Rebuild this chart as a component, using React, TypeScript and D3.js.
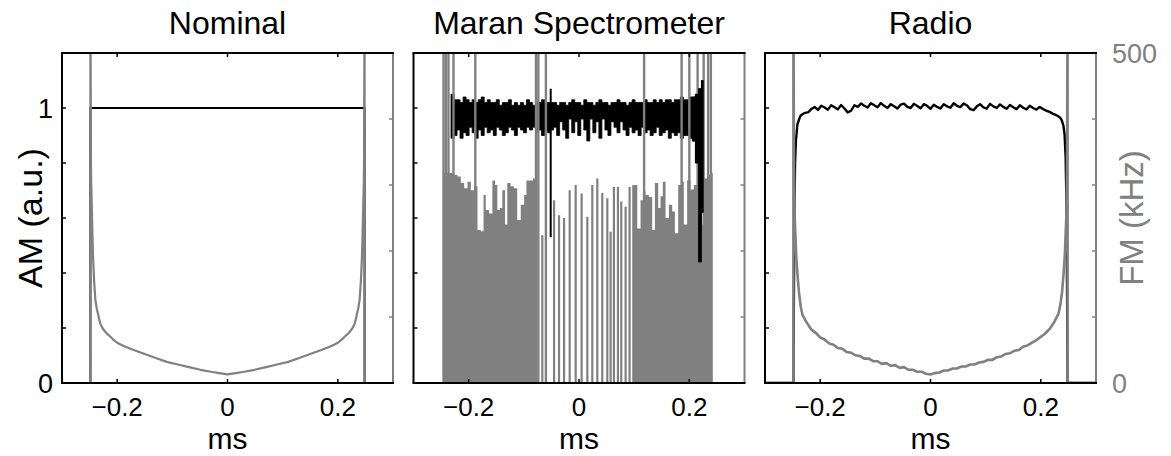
import React from 'react';
import * as d3 from 'd3';

const W = 1171;
const H = 456;
const GRAY = '#808080';
const FONT = "'Liberation Sans', Arial, Helvetica, sans-serif";

// ---- axes ----
const xDomain = [-0.3, 0.3];
const amDomain = [0, 1.2];
const fmDomain = [0, 500];
const xTicks = [-0.2, 0, 0.2];
const xTickLabels = ['\u22120.2', '0', '0.2'];
const amTicks = [0.2, 0.4, 0.6, 0.8, 1.0];
const amLabelTicks = [0, 1];
const amLabelText = ['0', '1'];
const fmTicks = [100, 200, 300, 400];
const fmLabelTicks = [0, 500];
const fmLabelText = ['0', '500'];
const titles = ['Nominal', 'Maran Spectrometer', 'Radio'];

// ---- Nominal ----
const nomAMt = [-0.3, -0.2485, -0.2485, 0.2485, 0.2485, 0.3];
const nomAM = [0, 0, 1, 1, 0, 0];
const nomFMt = [-0.3, -0.2485, -0.2485, -0.2475, -0.247, -0.246, -0.245, -0.2437, -0.2418, -0.2395, -0.237, -0.2345, -0.2325, -0.2305, -0.2265, -0.222, -0.2175, -0.2123, -0.206, -0.2, -0.193, -0.185, -0.17, -0.15, -0.13, -0.11, -0.09, -0.07, -0.049, -0.03, -0.015, 0,
  0.015, 0.03, 0.049, 0.07, 0.09, 0.11, 0.13, 0.15, 0.17, 0.185, 0.193, 0.2, 0.206, 0.2123, 0.2175, 0.222, 0.2265, 0.2305, 0.2325, 0.2345, 0.237, 0.2395, 0.2418, 0.2437, 0.245, 0.246, 0.247, 0.2475, 0.2485, 0.2485, 0.3];
const nomFM = [0, 0, 600, 330, 300, 267, 230, 191, 155, 126, 113, 104, 96, 90, 83, 78, 74, 70, 65, 61, 58, 55, 50, 44, 38, 32, 28, 24, 20, 17, 15, 13,
  15, 17, 20, 24, 28, 32, 38, 44, 50, 55, 58, 61, 65, 70, 74, 78, 83, 90, 96, 104, 113, 126, 155, 191, 230, 267, 300, 330, 600, 0, 0];

// ---- Maran Spectrometer ----
const maranAMStart = -0.232;
const maranAMStep = 0.00547;
const maranAMhi = [
  1.05, 1.03, 1.03, 1.02, 1.04, 1.03, 1.02, 1.03, 1.02, 1.03,
  1.04, 1.02, 1.03, 1.02, 1.02, 1.03, 1.01, 1.02, 1.02, 1.03,
  1.01, 1.02, 1.01, 1.02, 1.01, 1.03, 1.02, 1.01, 1.02, 1.02,
  1.03, 1.02, 1.02, 1.02, 1.02, 1.01, 1.02, 1.02, 1.01, 1.02,
  1.03, 1.02, 1.02, 1.01, 1.03, 1.02, 1.02, 1.01, 1.02, 1.03,
  1.02, 1.02, 1.01, 1.02, 1.02, 1.03, 1.02, 1.02, 1.01, 1.02,
  1.03, 1.02, 1.02, 1.02, 1.03, 1.02, 1.02, 1.03, 1.02, 1.03,
  1.02, 1.03, 1.03, 1.02, 1.03, 1.03, 1.04, 1.03, 1.03, 1.04,
  1.04, 1.05, 1.07, 1.10];
const maranAMlo = [
  0.89, 0.90, 0.92, 0.89, 0.91, 0.90, 0.93, 0.91, 0.89, 0.92,
  0.90, 0.93, 0.91, 0.92, 0.90, 0.93, 0.92, 0.90, 0.91, 0.93,
  0.92, 0.90, 0.93, 0.92, 0.91, 0.93, 0.92, 0.93, 0.91, 0.92,
  0.90, 0.92, 0.91, 0.92, 0.93, 0.90, 0.95, 0.92, 0.89, 0.96,
  0.91, 0.95, 0.90, 0.96, 0.92, 0.88, 0.96, 0.91, 0.95, 0.89,
  0.96, 0.92, 0.90, 0.95, 0.93, 0.91, 0.95, 0.92, 0.90, 0.93,
  0.91, 0.92, 0.90, 0.93, 0.91, 0.92, 0.90, 0.91, 0.93, 0.90,
  0.91, 0.92, 0.89, 0.91, 0.90, 0.91, 0.89, 0.90, 0.90, 0.89,
  0.88, 0.80, 0.44, 0.62];
const maranAMTailFrom = 80;
const maranAMSpikeT = [-0.0513];
const maranAMSpikeHi = [1.07];
const maranAMSpikeLo = [0.53];

const maranFMLeftT = [-0.2456, -0.2383, -0.2323, -0.2262, -0.2202, -0.2142, -0.2081, -0.2021, -0.1961, -0.19, -0.184, -0.178, -0.173, -0.169, -0.163, -0.157, -0.152, -0.148, -0.1436, -0.139, -0.134, -0.13, -0.124, -0.118, -0.112, -0.1056, -0.0995, -0.0953, -0.0893, -0.0833, -0.0784, -0.0755];
const maranFMLeft = [318, 318, 318, 315, 313, 303, 295, 305, 292, 298, 232, 230, 285, 262, 257, 307, 300, 262, 265, 292, 240, 303, 298, 295, 247, 270, 285, 307, 307, 310, 310, 0];
const maranFMRightT = [0.0965, 0.1056, 0.1116, 0.1158, 0.1207, 0.1267, 0.1327, 0.1376, 0.1436, 0.1478, 0.152, 0.1569, 0.1629, 0.1689, 0.1738, 0.1798, 0.1858, 0.19, 0.196, 0.2021, 0.2081, 0.2142, 0.2202, 0.2262, 0.2323, 0.2383, 0.241, 0.2425];
const maranFMRight = [300, 234, 277, 290, 285, 282, 232, 303, 265, 283, 305, 250, 270, 260, 227, 300, 305, 240, 307, 293, 300, 300, 240, 310, 315, 318, 318, 0];
const maranSpikeT = [-0.0665, -0.0452, -0.0362, -0.0271, -0.0169, -0.006, 0.0048, 0.0151, 0.0241, 0.0332, 0.0422, 0.0513, 0.0573, 0.0633, 0.0706, 0.0766, 0.0845, 0.0917];
const maranSpikeTop = [224, 277, 254, 250, 292, 300, 287, 252, 300, 310, 288, 280, 229, 297, 297, 275, 267, 297];
const maranSpikeBase = 0;
const maranTallT = [-0.2456, -0.2413, -0.2366, -0.2275, -0.188, -0.078, -0.0737, -0.06, 0.118, 0.186, 0.2, 0.215, 0.226, 0.234, 0.239];
const maranTallTop = 600;

// ---- Radio ----
const radioAMLeftT = [-0.3, -0.2485, -0.2475, -0.2465, -0.2455, -0.244, -0.2413, -0.238, -0.2353, -0.23, -0.226];
const radioAMLeft = [0, 0, 0.35, 0.65, 0.8, 0.88, 0.94, 0.96, 0.973, 0.98, 0.983];
const radioAMStart = -0.222;
const radioAMStep = 0.006;
const radioAMMid = [
  0.984, 0.996, 1.004, 0.993, 1.008, 1.002, 0.994, 1.010, 1.003, 0.995,
  1.011, 0.998, 0.984, 0.990, 1.010, 1.004, 1.016, 1.008, 1.002, 1.017,
  1.010, 1.003, 1.018, 1.008, 1.000, 1.014, 1.006, 0.998, 1.012, 1.016,
  1.004, 1.000, 1.015, 1.007, 0.999, 1.014, 1.008, 0.997, 1.012, 1.004,
  0.998, 1.014, 1.006, 1.001, 1.017, 1.008, 1.003, 1.016, 1.010, 0.996,
  0.992, 1.006, 1.014, 1.002, 0.998, 1.015, 1.006, 1.000, 1.013, 1.004,
  0.997, 1.011, 1.003, 0.996, 1.010, 1.001, 0.995, 1.008, 1.000, 0.994,
  1.004, 0.996, 0.990, 0.986, 0.979];
const radioAMRightT = [0.226, 0.23, 0.235, 0.238, 0.241, 0.243, 0.245, 0.2465, 0.2475, 0.2485, 0.3];
const radioAMRight = [0.976, 0.972, 0.965, 0.955, 0.935, 0.905, 0.82, 0.64, 0.35, 0, 0];

const radioFMLeftT = [-0.3, -0.2485, -0.2485, -0.2475, -0.2465, -0.2455, -0.2435, -0.2413, -0.2385, -0.2353];
const radioFMLeft = [0, 0, 600, 330, 260, 237, 195, 166, 138, 116];
const radioFMStart = -0.232;
const radioFMStep = 0.008;
const radioFMMid = [
  103, 91, 81, 76, 69, 66, 60, 58, 53, 52,
  47, 46, 42, 41, 37, 37, 33, 33, 29, 30,
  26, 27, 23, 24, 20, 20, 17, 17, 14, 13,
  15, 16, 19, 19, 22, 22, 25, 25, 28, 28,
  31, 32, 35, 35, 39, 40, 44, 45, 49, 50,
  55, 57, 61, 65, 70, 75, 82, 92, 105];
const radioFMRightT = [0.2353, 0.2385, 0.2413, 0.2435, 0.2455, 0.2465, 0.2475, 0.2485, 0.2485, 0.3];
const radioFMRight = [118, 138, 166, 195, 237, 260, 330, 600, 0, 0];

// ---- layout ----
const panelLeft = [62, 413.5, 765];
const panelW = 331;
const plotTop = 53;
const plotBottom = 383;
const TICK = 4;

const zip = (t: number[], v: number[]) => t.map((ti, i) => [ti, v[i]] as [number, number]);
const grid = (start: number, step: number, n: number) => d3.range(n).map((i) => start + i * step);

export default function App() {
  const yAM = d3.scaleLinear().domain(amDomain).range([plotBottom, plotTop]);
  const yFM = d3.scaleLinear().domain(fmDomain).range([plotBottom, plotTop]);

  const panels = titles.map((title, pi) => {
    const x = d3.scaleLinear().domain(xDomain).range([panelLeft[pi], panelLeft[pi] + panelW]);
    const L = panelLeft[pi];
    const R = L + panelW;
    const lineAM = d3.line<[number, number]>().x((d) => x(d[0])).y((d) => yAM(d[1]));
    const lineFM = d3.line<[number, number]>().x((d) => x(d[0])).y((d) => yFM(d[1]));
    const areaFM = d3.area<[number, number]>().x((d) => x(d[0])).y0(yFM(0)).y1((d) => yFM(d[1])).curve(d3.curveStepAfter);
    const bandAM = d3.area<[number, number, number]>().x((d) => x(d[0])).y0((d) => yAM(d[2])).y1((d) => yAM(d[1])).curve(d3.curveStepAfter);

    let content: React.ReactNode = null;
    if (pi === 0) {
      content = (
        <g>
          <path d={lineAM(zip(nomAMt, nomAM)) || ''} fill="none" stroke="#000" strokeWidth={2} />
          <path d={lineFM(zip(nomFMt, nomFM)) || ''} fill="none" stroke={GRAY} strokeWidth={2.2} strokeLinejoin="round" />
        </g>
      );
    } else if (pi === 1) {
      const tAM = grid(maranAMStart, maranAMStep, maranAMhi.length);
      const band = tAM.map((t, i) => [t, maranAMhi[i], maranAMlo[i]] as [number, number, number]);
      band.push([tAM[tAM.length - 1] + maranAMStep * 0.6, maranAMhi[maranAMhi.length - 1], maranAMlo[maranAMlo.length - 1]]);
      const tail = band.slice(maranAMTailFrom);
      content = (
        <g>
          <path d={bandAM(band) || ''} fill="#000" stroke="#000" strokeWidth={0.8} />
          {maranAMSpikeT.map((t, i) => (
            <line key={'bs' + i} x1={x(t)} x2={x(t)} y1={yAM(maranAMSpikeHi[i])} y2={yAM(maranAMSpikeLo[i])} stroke="#000" strokeWidth={2} />
          ))}
          <path d={areaFM(zip(maranFMLeftT, maranFMLeft)) || ''} fill={GRAY} />
          <path d={areaFM(zip(maranFMRightT, maranFMRight)) || ''} fill={GRAY} />
          {maranSpikeT.map((t, i) => (
            <line key={'s' + i} x1={x(t)} x2={x(t)} y1={yFM(maranSpikeBase)} y2={yFM(maranSpikeTop[i])} stroke={GRAY} strokeWidth={2.2} />
          ))}
          {maranTallT.map((t, i) => (
            <line key={'t' + i} x1={x(t)} x2={x(t)} y1={yFM(0)} y2={yFM(maranTallTop)} stroke={GRAY} strokeWidth={2.4} />
          ))}
          <path d={bandAM(tail) || ''} fill="#000" stroke="#000" strokeWidth={0.8} />
        </g>
      );
    } else {
      const am = [
        ...zip(radioAMLeftT, radioAMLeft),
        ...zip(grid(radioAMStart, radioAMStep, radioAMMid.length), radioAMMid),
        ...zip(radioAMRightT, radioAMRight),
      ];
      const fm = [
        ...zip(radioFMLeftT, radioFMLeft),
        ...zip(grid(radioFMStart, radioFMStep, radioFMMid.length), radioFMMid),
        ...zip(radioFMRightT, radioFMRight),
      ];
      content = (
        <g>
          <path d={lineAM(am) || ''} fill="none" stroke="#000" strokeWidth={2.4} strokeLinejoin="round" />
          <path d={lineFM(fm) || ''} fill="none" stroke={GRAY} strokeWidth={2.6} />
        </g>
      );
    }

    return (
      <g key={pi}>
        <defs>
          <clipPath id={'clip' + pi}>
            <rect x={L} y={plotTop} width={panelW} height={plotBottom - plotTop} />
          </clipPath>
        </defs>
        <g clipPath={`url(#clip${pi})`}>{content}</g>
        {/* right FM axis (gray) */}
        <line x1={R} x2={R} y1={plotTop} y2={plotBottom} stroke={GRAY} strokeWidth={2} />
        {fmTicks.map((v) => (
          <line key={'fm' + v} x1={R} x2={R - TICK} y1={yFM(v)} y2={yFM(v)} stroke={GRAY} strokeWidth={1.5} />
        ))}
        {/* left AM axis and box */}
        <line x1={L} x2={L} y1={plotTop} y2={plotBottom} stroke="#000" strokeWidth={2} />
        <line x1={L - 1} x2={R + 1} y1={plotTop} y2={plotTop} stroke="#000" strokeWidth={2} />
        <line x1={L - 1} x2={R + 1} y1={plotBottom} y2={plotBottom} stroke="#000" strokeWidth={2} />
        {amTicks.map((v) => (
          <line key={'am' + v} x1={L} x2={L + TICK} y1={yAM(v)} y2={yAM(v)} stroke="#000" strokeWidth={1.5} />
        ))}
        {xTicks.map((t) => (
          <g key={'xt' + t}>
            <line x1={x(t)} x2={x(t)} y1={plotBottom} y2={plotBottom - TICK} stroke="#000" strokeWidth={1.5} />
            <line x1={x(t)} x2={x(t)} y1={plotTop} y2={plotTop + TICK} stroke="#000" strokeWidth={1.5} />
          </g>
        ))}
        {xTicks.map((t, i) => (
          <text key={'xl' + t} x={x(t)} y={416} textAnchor="middle" fontSize={26} fontFamily={FONT} fill="#000">
            {xTickLabels[i]}
          </text>
        ))}
        <text x={(L + R) / 2} y={449} textAnchor="middle" fontSize={30} fontFamily={FONT} fill="#000">ms</text>
        <text x={(L + R) / 2} y={34} textAnchor="middle" fontSize={32} fontFamily={FONT} fill="#000">{title}</text>
        {pi === 0 && amLabelTicks.map((v, i) => (
          <text key={'aml' + v} x={L - 9} y={yAM(v) + 9.5} textAnchor="end" fontSize={27} fontFamily={FONT} fill="#000">
            {amLabelText[i]}
          </text>
        ))}
        {pi === 2 && fmLabelTicks.map((v, i) => (
          <text key={'fml' + v} x={R + 16} y={yFM(v) + 9.5} textAnchor="start" fontSize={27} fontFamily={FONT} fill={GRAY}>
            {fmLabelText[i]}
          </text>
        ))}
      </g>
    );
  });

  return (
    <svg width={W} height={H} style={{ position: 'absolute', left: 0, top: 0, background: '#fff' }}>
      <rect x={0} y={0} width={W} height={H} fill="#fff" />
      {panels}
      <text transform={`translate(42,218) rotate(-90)`} textAnchor="middle" fontSize={34} fontFamily={FONT} fill="#000">AM (a.u.)</text>
      <text transform={`translate(1143,218) rotate(-90)`} textAnchor="middle" fontSize={33} fontFamily={FONT} fill={GRAY}>FM (kHz)</text>
    </svg>
  );
}
